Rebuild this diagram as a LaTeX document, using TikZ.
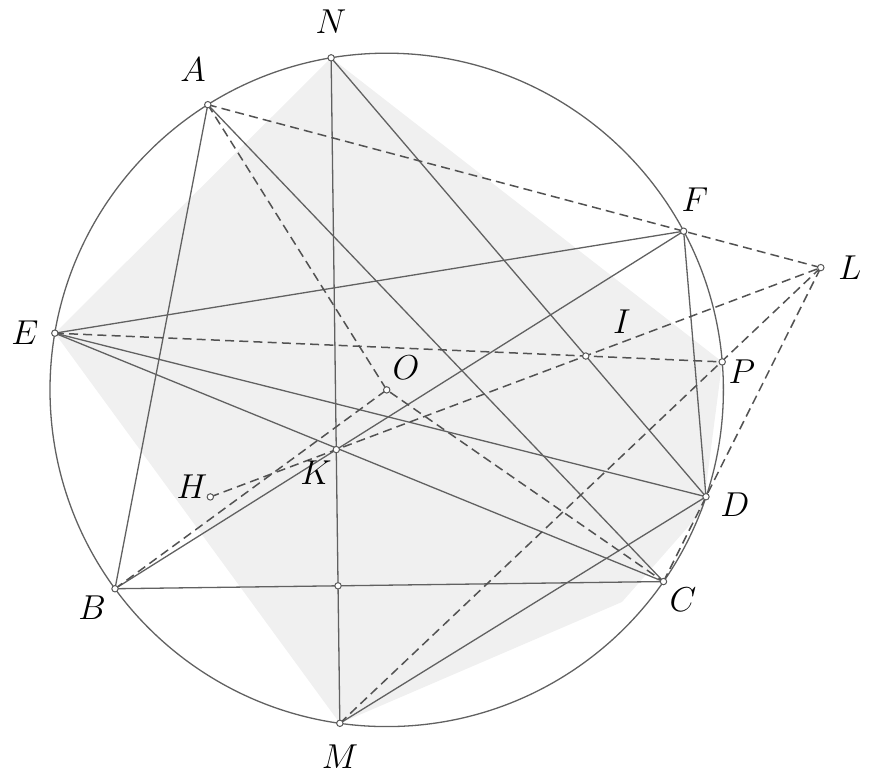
\documentclass[tikz,border=0pt]{standalone}
\usetikzlibrary{calc}
\begin{document}
\begin{tikzpicture}[x=0.5pt,y=0.5pt,
  geo/.style={draw=black!62,line width=0.65pt},
  dsh/.style={draw=black!68,line width=0.75pt,dash pattern=on 4.5pt off 2.6pt},
  pt/.style={circle,draw=black!65,fill=white,line width=0.5pt,inner sep=0pt,minimum size=3.2pt},
  lbl/.style={font=\fontsize{17}{20}\selectfont,inner sep=0pt}]
\useasboundingbox (0,0) rectangle (869,781);
% centre and points on the circle
\coordinate (O) at (386.7,391.1);
\def\R{336.7}
\coordinate (N) at ($(O)+(99.5:\R)$);
\coordinate (A) at ($(O)+(122.1:\R)$);
\coordinate (E) at ($(O)+(170.3:\R)$);
\coordinate (B) at ($(O)+(216.2:\R)$);
\coordinate (M) at ($(O)+(262.0:\R)$);
\coordinate (C) at ($(O)+(325.3:\R)$);
\coordinate (D) at ($(O)+(341.5:\R)$);
\coordinate (P) at ($(O)+(4.77:\R)$);
\coordinate (F) at ($(O)+(28.12:\R)$);
% derived points
\coordinate (L) at (intersection of A--F and C--D);
\coordinate (K) at (intersection of B--F and N--M);
\coordinate (Q) at (intersection of B--C and N--M);
\coordinate (I) at (intersection of N--D and E--P);
\coordinate (H) at ($(L)!1.26!(K)$);
\coordinate (G1) at (703,271);
\coordinate (G2) at (622,179);
% shaded region
\fill[black!6] (E) -- (N) -- (P) -- (G1) -- (G2) -- (M) -- cycle;
% circle
\draw[geo] (O) circle[radius=\R];
% solid segments
\draw[geo] (A) -- (B);
\draw[geo] (A) -- (C);
\draw[geo] (N) -- (M);
\draw[geo] (N) -- (D);
\draw[geo] (E) -- (F);
\draw[geo] (E) -- (D);
\draw[geo] (E) -- (C);
\draw[geo] (F) -- (D);
\draw[geo] (B) -- (F);
\draw[geo] (B) -- (C);
\draw[geo] (M) -- (D);
% dashed segments
\draw[dsh] (A) -- (L);
\draw[dsh] (E) -- (P);
\draw[dsh] (A) -- (O) -- (C);
\draw[dsh] (B) -- (O);
\draw[dsh] (H) -- (L);
\draw[dsh] (M) -- (L);
\draw[dsh] (C) -- (L);
% point markers
\foreach \p in {A,N,F,L,E,I,P,O,H,K,D,C,B,M,Q}
  \node[pt] (m\p) at (\p) {};
% labels
\node[lbl] (lN) at (331,759) {$N$};
\node[lbl] (lA) at (193,711) {$A$};
\node[lbl] (lF) at (695,581) {$F$};
\node[lbl] (lL) at (850,513) {$L$};
\node[lbl] (lE) at (25,448) {$E$};
\node[lbl] (lI) at (622,459) {$I$};
\node[lbl] (lP) at (742,409) {$P$};
\node[lbl] (lO) at (406,413) {$O$};
\node[lbl] (lH) at (192,294) {$H$};
\node[lbl] (lK) at (316,308) {$K$};
\node[lbl] (lD) at (735,276) {$D$};
\node[lbl] (lC) at (683,181) {$C$};
\node[lbl] (lB) at (92,173) {$B$};
\node[lbl] (lM) at (340,24) {$M$};
\end{tikzpicture}
\end{document}
